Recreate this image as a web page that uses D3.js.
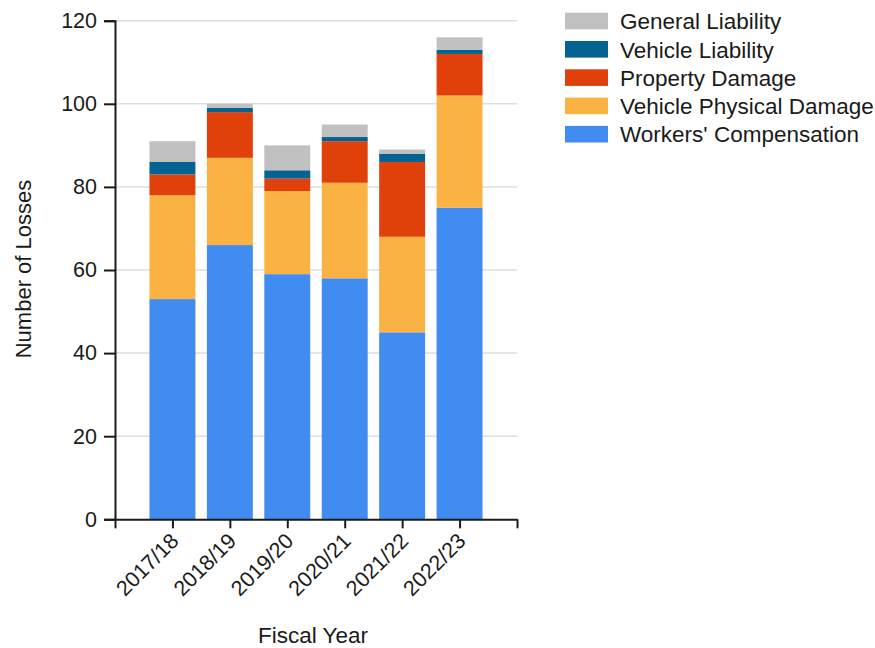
<!DOCTYPE html>
<html>
<head>
<meta charset="utf-8">
<script src="https://cdn.jsdelivr.net/npm/d3@7"></script>
<style>
  html, body { margin: 0; padding: 0; background: #fff; }
  svg { display: block; font-family: "Liberation Sans", Arial, sans-serif; }
</style>
</head>
<body>
<svg id="chart" width="875" height="648"></svg>
<script>
// Fiscal years on the x axis
const years = ["2017/18", "2018/19", "2019/20", "2020/21", "2021/22", "2022/23"];

// Loss counts per category, bottom of the stack first
const workersComp        = [53, 66, 59, 58, 45, 75];
const vehiclePhysical    = [25, 21, 20, 23, 23, 27];
const propertyDamage     = [5, 11, 3, 10, 18, 10];
const vehicleLiability   = [3, 1, 2, 1, 2, 1];
const generalLiability   = [5, 1, 6, 3, 1, 3];

const seriesNames = ["Workers' Compensation", "Vehicle Physical Damage", "Property Damage", "Vehicle Liability", "General Liability"];
const seriesValues = [workersComp, vehiclePhysical, propertyDamage, vehicleLiability, generalLiability];
const seriesColors = ["#418cf0", "#fab342", "#e0410a", "#046390", "#c0c0c0"];

const yTicks = [0, 20, 40, 60, 80, 100, 120];

const svg = d3.select("#chart");
const plotLeft = 115, plotRight = 517, plotTop = 20.7, plotBottom = 519.3;

// One slot per year plus half a slot of padding each side
const x = d3.scaleLinear().domain([0, years.length + 1]).range([plotLeft, plotRight]);
const y = d3.scaleLinear().domain([0, 120]).range([plotBottom, plotTop]);
const barW = 0.8;

// Horizontal grid lines
svg.append("g")
  .selectAll("line")
  .data(yTicks.filter(d => d > 0))
  .join("line")
  .attr("x1", plotLeft).attr("x2", plotRight)
  .attr("y1", d => y(d)).attr("y2", d => y(d))
  .attr("stroke", "#dedede")
  .attr("stroke-width", 1.5);

// Stack the series
const rows = years.map((yr, i) => {
  const r = { year: yr, idx: i + 1 };
  seriesNames.forEach((n, s) => r[n] = seriesValues[s][i]);
  return r;
});
const stacked = d3.stack().keys(seriesNames)(rows);

svg.append("g")
  .selectAll("g")
  .data(stacked)
  .join("g")
  .attr("fill", (d, i) => seriesColors[i])
  .selectAll("rect")
  .data(d => d)
  .join("rect")
  .attr("x", d => x(d.data.idx - barW / 2))
  .attr("width", d => x(barW) - x(0))
  .attr("y", d => y(d[1]))
  .attr("height", d => y(d[0]) - y(d[1]));

// Y axis
const yAxis = svg.append("g")
  .attr("transform", `translate(${plotLeft},0)`)
  .call(d3.axisLeft(y).tickValues(yTicks).tickSize(11).tickPadding(7));
yAxis.select(".domain").attr("stroke", "#1a1a1a").attr("stroke-width", 2);
yAxis.selectAll(".tick line").attr("stroke", "#1a1a1a").attr("stroke-width", 2);
yAxis.selectAll(".tick text")
  .attr("font-size", 21.5)
  .attr("fill", "#1a1a1a")
  .style("font-family", "'Liberation Sans', Arial, sans-serif");

// X axis: ticks at each year and at both ends
const xTickVals = d3.range(0, years.length + 2);
const xAxis = svg.append("g")
  .attr("transform", `translate(0,${plotBottom})`)
  .call(d3.axisBottom(x).tickValues(xTickVals).tickSize(9).tickSizeOuter(0)
    .tickFormat(d => (d >= 1 && d <= years.length) ? years[d - 1] : ""));
xAxis.select(".domain").attr("stroke", "#1a1a1a").attr("stroke-width", 2);
xAxis.selectAll(".tick line").attr("stroke", "#1a1a1a").attr("stroke-width", 2);
xAxis.selectAll(".tick text")
  .attr("font-size", 21.5)
  .attr("fill", "#1a1a1a")
  .style("font-family", "'Liberation Sans', Arial, sans-serif")
  .attr("text-anchor", "end")
  .attr("x", 0).attr("y", 0).attr("dy", 0)
  .attr("transform", "translate(7,23) rotate(-45)");

// Axis titles
svg.append("text")
  .attr("x", (plotLeft + plotRight) / 2 - 3)
  .attr("y", 643)
  .attr("text-anchor", "middle")
  .attr("font-size", 22.5)
  .attr("fill", "#1a1a1a")
  .text("Fiscal Year");

svg.append("text")
  .attr("transform", "translate(31,269) rotate(-90)")
  .attr("text-anchor", "middle")
  .attr("font-size", 22)
  .attr("fill", "#1a1a1a")
  .text("Number of Losses");

// Legend, top item is the top of the stack
const legendOrder = d3.range(seriesNames.length).reverse();
const legend = svg.append("g")
  .selectAll("g")
  .data(legendOrder)
  .join("g")
  .attr("transform", (d, i) => `translate(565,${12.7 + i * 28.3})`);
legend.append("rect")
  .attr("width", 43).attr("height", 16.6)
  .attr("fill", d => seriesColors[d]);
legend.append("text")
  .attr("x", 55).attr("y", 16.5)
  .attr("font-size", 22.5)
  .attr("fill", "#1a1a1a")
  .text(d => seriesNames[d]);
</script>
</body>
</html>
